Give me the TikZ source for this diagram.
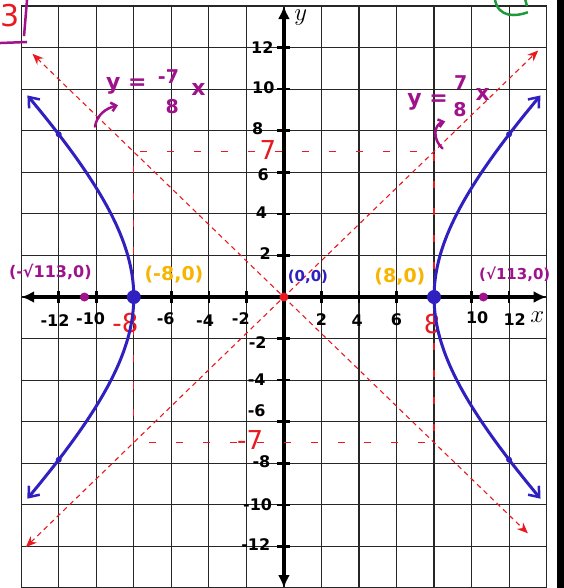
\documentclass[tikz,border=0pt]{standalone}
\usepackage{fontspec}
\setmainfont{DejaVu Sans}
\usetikzlibrary{arrows.meta}
\definecolor{blueC}{HTML}{3020C0}
\definecolor{magC}{HTML}{A0128C}
\definecolor{orgC}{HTML}{F7B500}
\definecolor{redC}{HTML}{E8191F}
\definecolor{grnC}{HTML}{1E9A3C}
\tikzset{
  redtip/.tip={Stealth[length=11pt,width=9pt]},
  hyptip/.tip={Straight Barb[length=9pt,width=14pt,line width=2.5pt]},
  axtip/.tip={Latex[length=13pt,width=12pt]},
}
\begin{document}
\begin{tikzpicture}[x=18.77pt,y=20.79pt,
  gridline/.style={line width=1.2pt, black!85},
  axisline/.style={line width=3.5pt, black},
  tickmark/.style={line width=2.6pt, black},
  num/.style={font=\fontsize{16}{18}\selectfont\bfseries, text=black, inner sep=0pt},
  rednum/.style={font=\fontsize{26}{28}\selectfont, text=redC, inner sep=0pt},
  ptlabel/.style={font=\fontsize{15}{17}\selectfont\bfseries, inner sep=0pt},
  orglabel/.style={font=\fontsize{19}{21}\selectfont\bfseries, text=orgC, inner sep=0pt},
  eqlabel/.style={font=\fontsize{22}{24}\selectfont\bfseries, text=magC, inner sep=0pt},
  eqsmall/.style={font=\fontsize{19}{20}\selectfont\bfseries, text=magC, inner sep=0pt},
  asym/.style={redC, line width=1.1pt, dash pattern=on 5pt off 4pt},
  boxline/.style={redC, line width=1.1pt, dash pattern=on 7pt off 20pt},
  hyp/.style={blueC, line width=3pt, line cap=round},
  annot/.style={magC, line width=2.5pt, line cap=round},
]
\useasboundingbox (-15.13,-14.0) rectangle (14.92,14.29);
\fill[white] (-15.13,-14.0) rectangle (14.92,14.29);
% grid
\draw[gridline] (-14,-14) grid[xstep=2,ystep=2] (14,14);
% right black bar
\fill[black] (14.54,-14.0) rectangle (14.92,14.29);
% axes
\coordinate (xl) at (-14,0); \coordinate (xr) at (14,0);
\coordinate (yb) at (0,-14); \coordinate (yt) at (0,14);
\draw[axisline, axtip-axtip] (xl) -- (xr);
\draw[axisline, axtip-axtip] (yb) -- (yt);
\foreach \i in {-12,-10,...,-2,2,4,...,12} {
  \draw[tickmark] (\i,-0.27) -- (\i,0.27);
  \draw[tickmark] (-0.35,\i) -- (0.35,\i);
}
% axis letters
\node[font=\fontsize{24}{24}\selectfont, inner sep=0pt] (ylab) at (0.9,13.45) {$y$};
\node[font=\fontsize{24}{24}\selectfont, inner sep=0pt] (xlab) at (13.5,-0.95) {$x$};
% x numbers
\node[num] (xm12) at (-12.2,-1.15) {-12};
\node[num] (xm10) at (-10.3,-1.05) {-10};
\node[num] (xm6) at (-6.3,-1.05) {-6};
\node[num] (xm4) at (-4.2,-1.15) {-4};
\node[num] (xm2) at (-2.3,-1.05) {-2};
\node[num] (x2) at (2.0,-1.1) {2};
\node[num] (x4) at (3.9,-1.15) {4};
\node[num] (x6) at (6.0,-1.1) {6};
\node[num] (x10) at (10.3,-1.0) {10};
\node[num] (x12) at (12.3,-1.1) {12};
\node[rednum] (xm8) at (-8.45,-1.25) {-8};
\node[rednum] (x8) at (7.9,-1.3) {8};
% y numbers
\node[num] (y12) at (-1.15,12.0) {12};
\node[num] (y10) at (-1.1,10.05) {10};
\node[num] (y8) at (-1.4,8.1) {8};
\node[num] (y6) at (-1.1,5.9) {6};
\node[num] (y4) at (-1.2,4.04) {4};
\node[num] (y2) at (-1.0,2.1) {2};
\node[num] (ym2) at (-1.4,-2.2) {-2};
\node[num] (ym4) at (-1.45,-4.0) {-4};
\node[num] (ym6) at (-1.45,-5.45) {-6};
\node[num] (ym8) at (-1.2,-7.9) {-8};
\node[num] (ym10) at (-1.4,-10.0) {-10};
\node[num] (ym12) at (-1.5,-11.9) {-12};
\node[rednum] (y7) at (-0.85,7.05) {7};
\node[rednum] (ym7) at (-1.8,-6.9) {-7};
% dashed box
\draw[boxline] (-8,-7) rectangle (8,7);
% asymptotes
\coordinate (a1) at (-13.75,-12.03); \coordinate (a2) at (13.55,11.86);
\coordinate (b1) at (-13.4,11.7); \coordinate (b2) at (13.0,-11.37);
\draw[asym, redtip-redtip] (a1) -- (a2);
\draw[asym, redtip-redtip] (b1) -- (b2);
% hyperbola
\draw[hyp, hyptip-hyptip] plot[domain=-1.13:1.13, variable=\t, samples=50, smooth] ({-8*cosh(\t)},{7*sinh(\t)});
\draw[hyp, hyptip-hyptip] plot[domain=-1.13:1.13, variable=\t, samples=50, smooth] ({8*cosh(\t)},{7*sinh(\t)});
\foreach \sx/\sy in {-1/1,-1/-1,1/1,1/-1}
  \fill[blueC] (12*\sx,7.83*\sy) circle (3pt);
% points
\fill[blueC] (-8,0) circle (7pt);
\fill[blueC] (8,0) circle (7pt);
\fill[magC] (-10.63,0) circle (4.5pt);
\fill[magC] (10.63,0) circle (4.5pt);
\fill[redC] (0,0) circle (4.5pt);
\node[ptlabel, text=magC, font=\fontsize{16}{18}\selectfont\bfseries] (f1) at (-12.45,1.2) {(-√113,0)};
\node[orglabel] (v1) at (-5.86,1.06) {(-8,0)};
\node[ptlabel, text=blueC] (o) at (1.28,0.98) {(0,0)};
\node[orglabel] (v2) at (6.18,0.98) {(8,0)};
\node[ptlabel, text=magC] (f2) at (12.3,1.1) {(√113,0)};
% equations
\node[eqlabel] (e1y) at (-8.4,10.15) {y =};
\node[eqsmall] (e1n) at (-6.15,10.6) {-7};
\node[eqsmall] (e1d) at (-5.95,9.15) {8};
\node[eqlabel] (e1x) at (-4.55,10.0) {x};
\node[eqlabel] (e2y) at (7.65,9.4) {y =};
\node[eqsmall] (e2n) at (9.42,10.3) {7};
\node[eqsmall] (e2d) at (9.38,9.0) {8};
\node[eqlabel] (e2x) at (10.6,9.75) {x};
\coordinate (c1s) at (-10.07,8.2); \coordinate (c1e) at (-8.84,9.23);
\draw[annot, -{Straight Barb[length=5pt,width=9pt]}] (c1s) to[out=80,in=195] (c1e);
\coordinate (c2s) at (8.45,7.15); \coordinate (c2e) at (8.6,8.45);
\draw[annot, -{Straight Barb[length=5pt,width=8pt]}] (c2s) .. controls (7.9,7.6) and (8.0,8.3) .. (c2e);
% corner marks
\node[font=\fontsize{30}{30}\selectfont, text=redC, inner sep=0pt] (three) at (-14.62,13.55) {3};
\coordinate (m1) at (-13.69,14.29); \coordinate (m2) at (-13.85,12.55);
\coordinate (m3) at (-15.13,12.22); \coordinate (m4) at (-13.69,12.27);
\draw[magC, line width=2.5pt] (m1) -- (m2);
\draw[magC, line width=2.5pt] (m3) -- (m4);
\coordinate (g1) at (11.24,14.35); \coordinate (g2) at (13.0,13.7);
\draw[grnC, line width=2.5pt] (g1) .. controls (11.4,13.4) and (12.4,13.5) .. (g2);
\draw[grnC, line width=2.5pt] (12.85,14.35) -- (12.95,14.0);
\end{tikzpicture}
\end{document}
